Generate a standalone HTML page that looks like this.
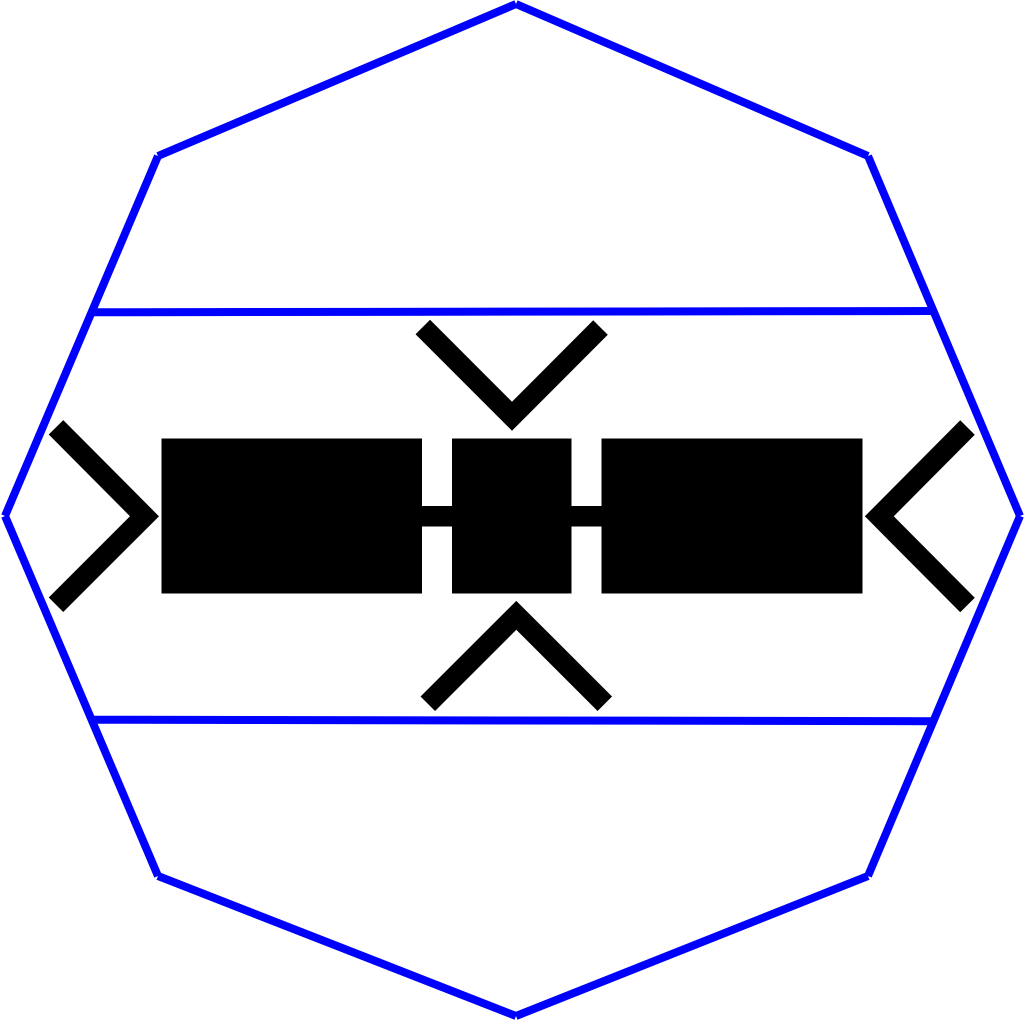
<!DOCTYPE html>
<html>
<head>
<meta charset="utf-8">
<style>
html,body{margin:0;padding:0;background:#fff;width:1024px;height:1020px;overflow:hidden}
svg{display:block}
</style>
</head>
<body>
<svg width="1024" height="1020" viewBox="0 0 1024 1020" xmlns="http://www.w3.org/2000/svg">
  <g fill="none" stroke="#0000ff" stroke-width="8" stroke-linecap="butt">
    <line x1="516" y1="4" x2="868" y2="156"/>
    <line x1="868" y1="156" x2="1020" y2="516"/>
    <line x1="1020" y1="516" x2="868" y2="876"/>
    <line x1="868" y1="876" x2="516" y2="1016"/>
    <line x1="516" y1="1016" x2="158" y2="876"/>
    <line x1="158" y1="876" x2="5" y2="516"/>
    <line x1="5" y1="516" x2="158" y2="156"/>
    <line x1="158" y1="156" x2="516" y2="4"/>
  </g>
  <line x1="92" y1="312.300" x2="933" y2="311" stroke="#0000ff" stroke-width="8"/>
  <line x1="92" y1="719.700" x2="933" y2="721.200" stroke="#0000ff" stroke-width="8"/>
  <rect x="161.500" y="438.500" width="260.500" height="155" fill="#000"/>
  <rect x="452" y="438.500" width="119.500" height="155" fill="#000"/>
  <rect x="601.500" y="438.500" width="261" height="155" fill="#000"/>
  <rect x="422" y="506" width="30" height="20.500" fill="#000"/>
  <rect x="571.500" y="506" width="30" height="20.500" fill="#000"/>
  <polyline points="422.800,327 512,416.300 600.500,327.500" fill="none" stroke="#000" stroke-width="20.500" stroke-linejoin="miter"/>
  <polyline points="427.800,703.700 516.300,615.300 604.800,703.700" fill="none" stroke="#000" stroke-width="20.500" stroke-linejoin="miter"/>
  <polyline points="56,427.300 144.500,516.300 56,604.700" fill="none" stroke="#000" stroke-width="20.500" stroke-linejoin="miter"/>
  <polyline points="967.500,427.500 879.300,516.300 967.500,605" fill="none" stroke="#000" stroke-width="20.500" stroke-linejoin="miter"/>
</svg>
</body>
</html>
